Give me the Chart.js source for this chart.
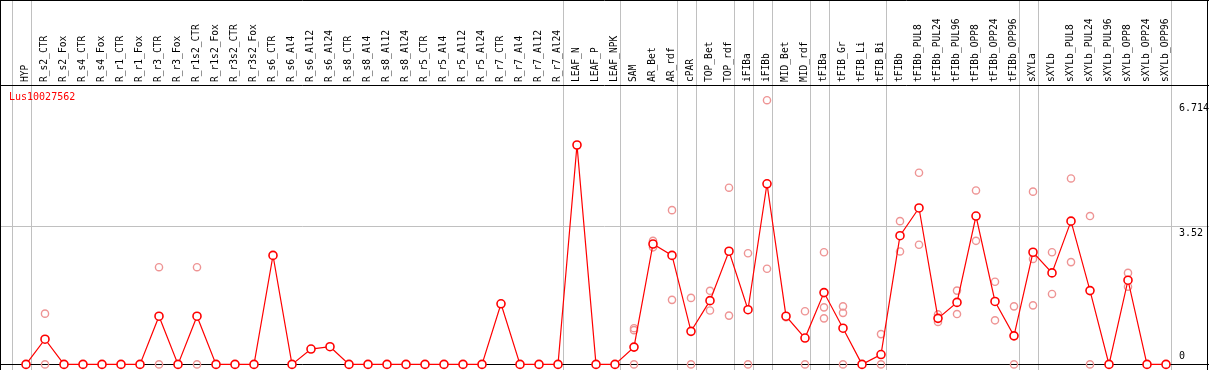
<!DOCTYPE html>
<html>
<head>
<meta charset="utf-8">
<script src="https://cdn.jsdelivr.net/npm/chart.js@4.4.1/dist/chart.umd.min.js"></script>
<style>
  body { margin: 0; background: #fff; }
  #wrap { width: 1209px; height: 370px; position: relative; }
</style>
</head>
<body>
<div id="wrap"><canvas id="myChart"></canvas></div>
<script>
const geneId = 'Lus10027562';

const categories = [
    'HYP', 'R_s2_CTR', 'R_s2_Fox', 'R_s4_CTR', 'R_s4_Fox', 'R_r1_CTR', 'R_r1_Fox', 'R_r3_CTR', 'R_r3_Fox',
    'R_r1s2_CTR', 'R_r1s2_Fox', 'R_r3s2_CTR', 'R_r3s2_Fox', 'R_s6_CTR', 'R_s6_Al4', 'R_s6_Al12', 'R_s6_Al24',
    'R_s8_CTR', 'R_s8_Al4', 'R_s8_Al12', 'R_s8_Al24', 'R_r5_CTR', 'R_r5_Al4', 'R_r5_Al12', 'R_r5_Al24',
    'R_r7_CTR', 'R_r7_Al4', 'R_r7_Al12', 'R_r7_Al24', 'LEAF_N', 'LEAF_P', 'LEAF_NPK', 'SAM', 'AR_Bet', 'AR_rdf',
    'cPAR', 'TOP_Bet', 'TOP_rdf', 'iFIBa', 'iFIBb', 'MID_Bet', 'MID_rdf', 'tFIBa', 'tFIB_Gr', 'tFIB_Li', 'tFIB_Bi',
    'tFIBb', 'tFIBb_PUL8', 'tFIBb_PUL24', 'tFIBb_PUL96', 'tFIBb_OPP8', 'tFIBb_OPP24', 'tFIBb_OPP96',
    'sXYLa', 'sXYLb', 'sXYLb_PUL8', 'sXYLb_PUL24', 'sXYLb_PUL96', 'sXYLb_OPP8', 'sXYLb_OPP24', 'sXYLb_OPP96'
];

// mean expression per sample
const means = [
    0, 0.64, 0, 0, 0, 0, 0, 1.225, 0, 1.225, 0, 0, 0, 2.77, 0, 0.39, 0.45,
    0, 0, 0, 0, 0, 0, 0, 0, 1.54, 0, 0, 0, 5.575, 0, 0, 0.44, 3.06, 2.77,
    0.84, 1.62, 2.875, 1.39, 4.59, 1.225, 0.67, 1.825, 0.92, 0, 0.25,
    3.27, 3.975, 1.17, 1.575, 3.77, 1.6, 0.725,
    2.85, 2.325, 3.64, 1.875, 0, 2.14, 0, 0
];

// individual replicates (only the ones visible apart from the mean)
const replicates = [
    [], [1.29, 0], [], [], [], [], [], [2.47, 0], [],
    [2.47, 0], [], [], [], [], [], [], [],
    [], [], [], [], [], [], [], [],
    [], [], [], [], [], [], [], [0.92, 0.87, 0], [3.14, 2.975], [3.92, 1.64],
    [1.69, 0], [1.87, 1.37], [4.49, 1.24], [2.825, 0], [6.714, 2.43], [1.2], [1.35, 0], [2.85, 1.45, 1.17], [1.475, 1.31, 0], [], [0.77, 0],
    [3.64, 2.87], [4.87, 3.04], [1.27, 1.08], [1.875, 1.28], [4.42, 3.14], [2.1, 1.12], [1.475, 0],
    [4.39, 2.68, 1.5], [2.85, 1.79], [4.725, 2.6], [3.77, 0], [], [2.325, 1.975], [], []
];

// last sample index of each tissue group (-1 = line before the first one)
const groupEnds = [-1, 0, 28, 31, 34, 35, 37, 38, 39, 41, 42, 45, 52, 53, 60];

const yTicks = [0, 3.52, 6.714];

const repPoints = [];
replicates.forEach((vals, i) => {
    vals.forEach(v => repPoints.push({ x: categories[i], y: v }));
});

const MONO = "'DejaVu Sans Mono', monospace";

const framePlugin = {
    id: 'frame',
    beforeDraw(chart) {
        const { ctx, width, height, chartArea } = chart;
        const x = chart.scales.x, y = chart.scales.y;
        ctx.save();
        ctx.fillStyle = '#fff';
        ctx.fillRect(0, 0, width, height);
        ctx.lineWidth = 1;
        ctx.strokeStyle = '#c0c0c0';
        ctx.beginPath();
        groupEnds.forEach(i => {
            const px = Math.round(x.getPixelForValue(i + 0.25)) + 0.5;
            ctx.moveTo(px, 0);
            ctx.lineTo(px, height);
        });
        yTicks.slice(1, -1).forEach(v => {
            const py = Math.round(y.getPixelForValue(v)) + 0.5;
            ctx.moveTo(0, py);
            ctx.lineTo(width, py);
        });
        ctx.stroke();
        ctx.strokeStyle = '#000';
        ctx.beginPath();
        ctx.moveTo(0, 0.5); ctx.lineTo(width, 0.5);
        ctx.moveTo(0.5, 0); ctx.lineTo(0.5, height);
        ctx.moveTo(width - 1.5, 0); ctx.lineTo(width - 1.5, height);
        ctx.moveTo(0, Math.round(chartArea.top) + 0.5); ctx.lineTo(width, Math.round(chartArea.top) + 0.5);
        const zy = Math.round(y.getPixelForValue(0)) + 0.5;
        ctx.moveTo(0, zy); ctx.lineTo(width, zy);
        ctx.stroke();
        ctx.restore();
    },
    afterDraw(chart) {
        const { ctx, chartArea } = chart;
        const y = chart.scales.y;
        ctx.save();
        ctx.font = '10px ' + MONO;
        ctx.textAlign = 'left';
        ctx.fillStyle = '#000';
        yTicks.forEach(v => {
            const py = y.getPixelForValue(v);
            if (v === 0) {
                ctx.textBaseline = 'bottom';
                ctx.fillText(String(v), 1179, py - 3);
            } else {
                ctx.textBaseline = 'top';
                ctx.fillText(String(v), 1179, py + 3);
            }
        });
        ctx.fillStyle = '#ff0000';
        ctx.textBaseline = 'middle';
        ctx.fillText(geneId, 9, chartArea.top + 12);
        ctx.restore();
    }
};

const data = {
    labels: categories,
    datasets: [{
        label: geneId,
        data: means,
        borderColor: '#ff0000',
        borderWidth: 1.2,
        pointRadius: 4,
        pointBorderWidth: 1.6,
        pointBorderColor: '#ff0000',
        pointBackgroundColor: '#ffffff',
        tension: 0,
        clip: false
    }, {
        label: 'replicates',
        data: repPoints,
        showLine: false,
        pointRadius: 3.6,
        pointBorderWidth: 1.4,
        pointBorderColor: 'rgb(238, 148, 148)',
        pointBackgroundColor: 'rgba(0,0,0,0)',
        clip: false
    }]
};

const config = {
    type: 'line',
    data: data,
    options: {
        responsive: true,
        maintainAspectRatio: false,
        animation: false,
        layout: { padding: { left: 16.5, right: 33.5, top: 0, bottom: 1 } },
        plugins: { legend: { display: false }, tooltip: { enabled: false } },
        scales: {
            x: {
                type: 'category',
                position: 'top',
                offset: true,
                grid: { display: false, drawTicks: false },
                border: { display: false },
                ticks: {
                    autoSkip: false,
                    minRotation: 90,
                    maxRotation: 90,
                    padding: 3,
                    labelOffset: 11,
                    color: '#000',
                    font: { family: MONO, size: 9.6 }
                },
                afterFit(scale) { scale.height = 85; }
            },
            y: {
                display: false,
                min: 0,
                max: 7.1
            }
        }
    },
    plugins: [framePlugin]
};

const myChart = new Chart(
    document.getElementById('myChart'),
    config
);
</script>
</body>
</html>
